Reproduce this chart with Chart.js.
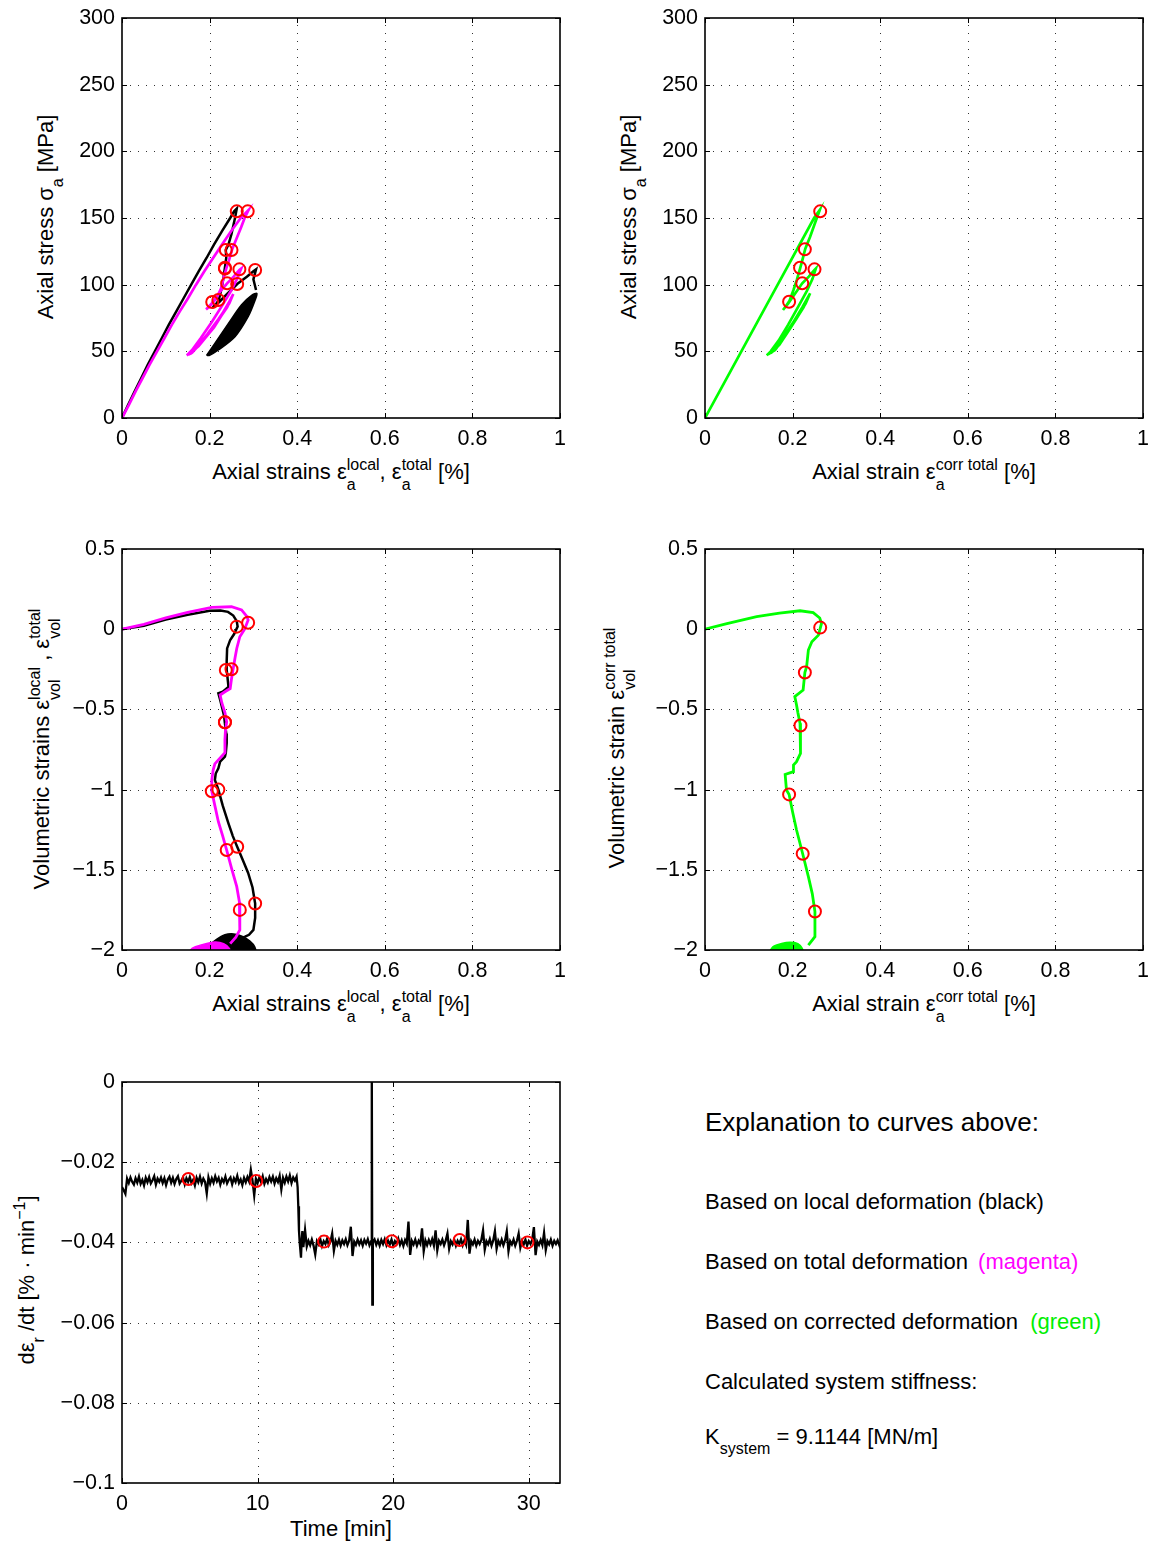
<!DOCTYPE html>
<html><head><meta charset="utf-8">
<script src="https://cdn.jsdelivr.net/npm/chart.js@4.4.1/dist/chart.umd.min.js"></script>
<style>
html,body{margin:0;padding:0;background:#fff;width:1154px;height:1543px;overflow:hidden;}
body{position:relative;font-family:"Liberation Sans",Arial,Helvetica,sans-serif;color:#000;}
canvas{position:absolute;}
.t{position:absolute;white-space:nowrap;font-size:22px;line-height:26px;}
.rot{transform:translate(-50%,-50%) rotate(-90deg);}
.hz{transform:translate(-50%,-50%);}
.ss{display:inline-flex;flex-direction:column;vertical-align:9px;font-size:16px;line-height:20px;align-items:flex-start;}
.sb{font-size:16px;vertical-align:-10px;line-height:0;}
.sp{font-size:16px;vertical-align:9px;line-height:0;}
.p{position:absolute;left:705px;white-space:nowrap;font-size:22px;line-height:26px;}
.h{position:absolute;left:705px;white-space:nowrap;font-size:26px;line-height:30px;}
</style></head><body>

<div class="t hz" style="left:341px;top:475px">Axial strains ε<span class="ss"><span>local</span><span>a</span></span>, ε<span class="ss"><span>total</span><span>a</span></span> [%]</div>
<div class="t rot" style="left:46px;top:217px">Axial stress σ<span class="sb">a</span> [MPa]</div>
<div class="t hz" style="left:924px;top:475px">Axial strain ε<span class="ss"><span>corr total</span><span>a</span></span> [%]</div>
<div class="t rot" style="left:629px;top:217px">Axial stress σ<span class="sb">a</span> [MPa]</div>

<div class="t hz" style="left:341px;top:1007px">Axial strains ε<span class="ss"><span>local</span><span>a</span></span>, ε<span class="ss"><span>total</span><span>a</span></span> [%]</div>
<div class="t rot" style="left:45px;top:749px">Volumetric strains ε<span class="ss"><span>local</span><span>vol</span></span> , ε<span class="ss"><span>total</span><span>vol</span></span></div>
<div class="t hz" style="left:924px;top:1007px">Axial strain ε<span class="ss"><span>corr total</span><span>a</span></span> [%]</div>
<div class="t rot" style="left:620px;top:748px">Volumetric strain ε<span class="ss"><span>corr total</span><span>vol</span></span></div>

<div class="t hz" style="left:341px;top:1529px">Time [min]</div>
<div class="t rot" style="left:27px;top:1280px">dε<span class="sb">r</span> /dt [% · min<span class="sp">−1</span>]</div>

<div class="h" style="top:1107px">Explanation to curves above:</div>
<div class="p" style="top:1189px">Based on local deformation (black)</div>
<div class="p" style="top:1249px">Based on total deformation <span style="color:#ff00ff;margin-left:4px">(magenta)</span></div>
<div class="p" style="top:1309px">Based on corrected deformation <span style="color:#00ee00;margin-left:6px">(green)</span></div>
<div class="p" style="top:1369px">Calculated system stiffness:</div>
<div class="p" style="top:1424px">K<span class="sb">system</span> = 9.1144 [MN/m]</div>

<script>
// ---------- DATA ----------
// Top-left: axial stress vs local / total axial strain
const tlLocalStrain = [0,0.014,0.029,0.044,0.059,0.075,0.091,0.107,0.124,0.141,0.158,0.175,0.193,0.210,0.228,0.247,0.256,0.262, 0.258,0.250,0.243,0.237,0.238,0.235,0.232,0.228,0.222,0.218,0.212,0.207, 0.222,0.240,0.263,0.285,0.300,0.306, 0.300,0.306];
const tlLocalStress = [0,10,20,30,40,50,60,70,80,90,100,110,120,130,140,150,155,157, 150,138,130,126,120,113,106,98,90,87,84,83, 87,93,100.5,106,110,111.5, 104,96];
const tlLocalCycStrain = [0.193,0.212,0.243,0.273,0.296,0.308,0.304,0.288,0.258,0.220,0.200,0.193];
const tlLocalCycStress = [47,56,71,85,92,93.5,88.5,76,61,51,47,47];
const tlTotalStrain = [0,0.016,0.031,0.047,0.063,0.080,0.097,0.114,0.132,0.151,0.169,0.188,0.208,0.228,0.249,0.271,0.283,0.289, 0.280,0.272,0.262,0.252,0.244,0.238,0.232,0.226,0.216,0.206,0.198,0.192, 0.205,0.222,0.240,0.255,0.268,0.272, 0.262,0.250,0.230,0.205,0.180,0.160,0.148, 0.160,0.185,0.210,0.235,0.254, 0.245,0.220,0.195,0.170,0.152, 0.175,0.200,0.225,0.250, 0.240,0.215,0.185,0.160,0.155];
const tlTotalStress = [0,10,20,30,40,50,60,70,80,90,100,110,120,130,140,150,154,156, 150,143,135,127,118,112,105,97,90,86,83,81.5, 86,94,101,106,111,112, 104,96,85,72,60,51,47, 50,58,68,81,93, 86,74,63,53,47.5, 54,64,76,90, 83,71,58,49,48];
const tlLocalMarkStrain = [0.262,0.237,0.235,0.220,0.263,0.304];
const tlLocalMarkStress = [155,126,112.7,88.5,100.5,111];
const tlTotalMarkStrain = [0.287,0.250,0.235,0.206,0.240,0.268];
const tlTotalMarkStress = [155,126,112,87,101,111.5];

// Top-right: axial stress vs corrected total axial strain
const trCorrStrain = [0,0.083,0.166,0.249,0.262, 0.252,0.240,0.229,0.222,0.217,0.210,0.202,0.193,0.185,0.178, 0.190,0.205,0.222,0.237,0.250,0.253, 0.245,0.232,0.212,0.190,0.168,0.150,0.141, 0.155,0.178,0.200,0.222,0.240, 0.230,0.208,0.182,0.160,0.145, 0.165,0.190,0.215,0.235, 0.225,0.198,0.170,0.150];
const trCorrStress = [0,50,100,150,156, 147,136,127,118,112,104,96,88,84,81, 86,93,101,106,111,112, 104,95,83,70,58,50,47, 51,60,71,83,93.5, 86,74,61,51,48, 54,65,78,90, 83,69,55,48.5];
const trMarkStrain = [0.263,0.228,0.217,0.192,0.222,0.250];
const trMarkStress = [155,126.5,112.7,87.2,101,111.5];

// Middle-left: volumetric strain vs axial strain (local / total)
const mlLocalStrain = [0,0.05,0.10,0.15,0.20,0.225,0.242,0.254,0.262,0.264,0.256,0.247,0.240,0.239,0.239,0.242,0.243,0.230,0.220,0.224,0.228,0.233,0.235,0.238,0.239,0.237,0.235,0.224,0.220,0.214,0.212,0.220,0.230,0.243,0.253,0.263,0.276,0.288,0.298,0.304,0.304,0.300,0.290,0.281,0.270];
const mlLocalVol = [0,0.022,0.06,0.09,0.115,0.117,0.108,0.085,0.05,0.016,-0.03,-0.067,-0.12,-0.2,-0.254,-0.33,-0.36,-0.39,-0.40,-0.44,-0.483,-0.54,-0.587,-0.65,-0.711,-0.77,-0.795,-0.826,-0.867,-0.90,-0.94,-1.0,-1.1,-1.21,-1.29,-1.356,-1.44,-1.52,-1.61,-1.71,-1.80,-1.875,-1.905,-1.917,-1.93];
const mlLocalCycStrain = [0.188,0.200,0.215,0.235,0.255,0.275,0.292,0.303,0.310];
const mlLocalCycVol = [-2.05,-1.97,-1.935,-1.905,-1.90,-1.915,-1.945,-1.98,-2.05];
const mlTotalStrain = [0,0.05,0.10,0.15,0.205,0.250,0.273,0.285,0.288,0.280,0.269,0.262,0.258,0.254,0.250,0.247,0.235,0.224,0.228,0.235,0.239,0.236,0.235,0.235,0.220,0.212,0.208,0.205,0.205,0.212,0.220,0.230,0.239,0.250,0.262,0.268,0.269,0.269,0.260,0.247];
const mlTotalVol = [0,0.03,0.07,0.105,0.136,0.140,0.12,0.08,0.057,0.0,-0.047,-0.12,-0.18,-0.244,-0.31,-0.37,-0.39,-0.41,-0.46,-0.52,-0.577,-0.64,-0.69,-0.77,-0.815,-0.84,-0.88,-0.94,-1.01,-1.1,-1.2,-1.29,-1.377,-1.49,-1.605,-1.70,-1.75,-1.875,-1.92,-1.96];
const mlTotalCycStrain = [0.145,0.160,0.185,0.212,0.232,0.245,0.250];
const mlTotalCycVol = [-2.05,-1.99,-1.965,-1.95,-1.96,-1.99,-2.05];
const mlLocalMarkStrain = [0.262,0.237,0.235,0.220,0.263,0.304];
const mlLocalMarkVol = [0.016,-0.254,-0.58,-1.0,-1.356,-1.71];
const mlTotalMarkStrain = [0.288,0.250,0.235,0.205,0.239,0.269];
const mlTotalMarkVol = [0.04,-0.25,-0.58,-1.01,-1.377,-1.75];

// Middle-right: corrected volumetric strain vs corrected axial strain
const mrCorrStrain = [0,0.05,0.118,0.17,0.217,0.247,0.262,0.266,0.259,0.244,0.236,0.232,0.228,0.224,0.205,0.209,0.212,0.217,0.218,0.218,0.209,0.202,0.202,0.183,0.186,0.192,0.200,0.209,0.223,0.236,0.245,0.251,0.251,0.236];
const mrCorrVol = [0,0.035,0.078,0.10,0.115,0.103,0.07,0.036,-0.037,-0.078,-0.13,-0.234,-0.27,-0.379,-0.42,-0.473,-0.52,-0.587,-0.68,-0.774,-0.826,-0.847,-0.888,-0.905,-1.003,-1.03,-1.14,-1.252,-1.40,-1.543,-1.65,-1.761,-1.917,-1.97];
const mrCorrCycStrain = [0.140,0.155,0.175,0.194,0.212,0.222,0.226];
const mrCorrCycVol = [-2.05,-1.98,-1.96,-1.952,-1.96,-1.99,-2.05];
const mrMarkStrain = [0.263,0.228,0.218,0.192,0.223,0.251];
const mrMarkVol = [0.01,-0.27,-0.60,-1.03,-1.40,-1.76];

// Bottom: radial strain rate vs time [min]
const rateTime = [
 0,0.125,0.25,0.375,0.5,0.625,0.75,0.875,
 1,1.125,1.25,1.375,1.5,1.625,1.75,1.875,
 2,2.125,2.25,2.375,2.5,2.625,2.75,2.875,
 3,3.125,3.25,3.375,3.5,3.625,3.75,3.875,
 4,4.125,4.25,4.375,4.5,4.625,4.75,4.875,
 5,5.125,5.25,5.375,5.5,5.625,5.75,5.875,
 6,6.125,6.25,6.375,6.5,6.625,6.75,6.875,
 7,7.125,7.25,7.375,7.5,7.625,7.75,7.875,
 8,8.125,8.25,8.375,8.5,8.625,8.75,8.875,
 9,9.125,9.25,9.375,9.5,9.625,9.75,9.875,
 10,10.125,10.25,10.375,10.5,10.625,10.75,10.875,
 11,11.125,11.25,11.375,11.5,11.625,11.75,11.875,
 12,12.125,12.25,12.375,12.5,12.625,12.75,
 12.875,12.95,13.0,13.05,13.1,13.15,13.2,13.25,13.3,13.375,
 13.5,13.625,13.75,13.875,14,14.125,14.25,14.375,
 14.5,14.625,14.75,14.875,15,15.125,15.25,15.375,
 15.5,15.625,15.75,15.875,16,16.125,16.25,16.375,
 16.5,16.625,16.75,16.875,17,17.125,17.25,17.375,
 17.5,17.625,17.75,17.875,18,18.125,18.25,18.375,
 18.42,18.46,
 18.5,18.625,18.75,18.875,19,19.125,19.25,19.375,
 19.5,19.625,19.75,19.875,20,20.125,20.25,20.375,
 20.5,20.625,20.75,20.875,21,21.125,21.25,21.375,
 21.5,21.625,21.75,21.875,22,22.125,22.25,22.375,
 22.5,22.625,22.75,22.875,23,23.125,23.25,23.375,
 23.5,23.625,23.75,23.875,24,24.125,24.25,24.375,
 24.5,24.625,24.75,24.875,25,25.125,25.25,25.375,
 25.5,25.625,25.75,25.875,26,26.125,26.25,26.375,
 26.5,26.625,26.75,26.875,27,27.125,27.25,27.375,
 27.5,27.625,27.75,27.875,28,28.125,28.25,28.375,
 28.5,28.625,28.75,28.875,29,29.125,29.25,29.375,
 29.5,29.625,29.75,29.875,30,30.125,30.25,30.375,
 30.5,30.625,30.75,30.875,31,31.125,31.25,31.375,
 31.5,31.625,31.75,31.875,32,32.125,32.25,
 32.3];
const rateValue = [
 -0.0262,-0.0270,-0.0279,-0.0241,-0.0252,-0.0238,-0.0249,-0.0256,
 -0.0240,-0.0251,-0.0236,-0.0254,-0.0244,-0.0258,-0.0239,-0.0250,
 -0.0237,-0.0253,-0.0245,-0.0235,-0.0256,-0.0241,-0.0249,-0.0238,
 -0.0252,-0.0240,-0.0257,-0.0243,-0.0236,-0.0251,-0.0239,-0.0254,
 -0.0242,-0.0235,-0.0253,-0.0246,-0.0238,-0.0255,-0.0240,-0.0249,
 -0.0237,-0.0252,-0.0244,-0.0258,-0.0239,-0.0250,-0.0236,-0.0253,
 -0.0241,-0.0249,-0.0278,-0.0238,-0.0254,-0.0240,-0.0251,-0.0235,
 -0.0248,-0.0239,-0.0256,-0.0242,-0.0250,-0.0236,-0.0253,-0.0244,
 -0.0238,-0.0255,-0.0240,-0.0249,-0.0234,-0.0252,-0.0243,-0.0257,
 -0.0239,-0.0250,-0.0237,-0.0248,-0.0219,-0.0246,-0.0283,-0.0241,
 -0.0252,-0.0238,-0.0249,-0.0235,-0.0254,-0.0242,-0.0251,-0.0237,
 -0.0248,-0.0236,-0.0253,-0.0240,-0.0249,-0.0234,-0.0268,-0.0239,
 -0.0251,-0.0236,-0.0248,-0.0233,-0.0252,-0.0238,-0.0246,
 -0.0236,-0.0262,-0.0310,-0.0370,-0.0398,-0.0418,-0.0438,-0.0395,-0.0372,-0.0412,
 -0.0369,-0.0410,-0.0396,-0.0407,-0.0393,-0.0408,-0.0430,-0.0397,
 -0.0405,-0.0392,-0.0409,-0.0397,-0.0404,-0.0391,-0.0407,-0.0398,
 -0.0378,-0.0421,-0.0396,-0.0406,-0.0393,-0.0408,-0.0395,-0.0404,
 -0.0392,-0.0407,-0.0396,-0.0361,-0.0434,-0.0398,-0.0406,-0.0393,
 -0.0405,-0.0395,-0.0408,-0.0394,-0.0403,-0.0392,-0.0407,-0.0397,
 0.005,-0.0555,
 -0.0400,-0.0393,-0.0406,-0.0395,-0.0408,-0.0394,-0.0404,-0.0392,
 -0.0407,-0.0396,-0.0405,-0.0393,-0.0408,-0.0397,-0.0404,-0.0391,
 -0.0406,-0.0395,-0.0409,-0.0394,-0.0403,-0.0348,-0.0431,-0.0396,
 -0.0405,-0.0393,-0.0408,-0.0396,-0.0404,-0.0365,-0.0422,-0.0395,
 -0.0407,-0.0394,-0.0405,-0.0392,-0.0408,-0.0370,-0.0420,-0.0396,
 -0.0404,-0.0393,-0.0407,-0.0395,-0.0378,-0.0416,-0.0397,-0.0405,
 -0.0393,-0.0408,-0.0396,-0.0404,-0.0392,-0.0407,-0.0395,-0.0406,
 -0.0344,-0.0428,-0.0397,-0.0405,-0.0393,-0.0408,-0.0396,-0.0404,
 -0.0394,-0.0370,-0.0418,-0.0397,-0.0405,-0.0392,-0.0408,-0.0395,
 -0.0372,-0.0416,-0.0396,-0.0406,-0.0393,-0.0407,-0.0395,-0.0372,
 -0.0422,-0.0397,-0.0405,-0.0393,-0.0408,-0.0396,-0.0378,-0.0413,
 -0.0396,-0.0405,-0.0393,-0.0408,-0.0397,-0.0404,-0.0394,-0.0362,
 -0.0432,-0.0398,-0.0406,-0.0394,-0.0407,-0.0376,-0.0419,-0.0397,
 -0.0405,-0.0393,-0.0408,-0.0396,-0.0404,-0.0395,-0.0407,
 -0.0400];
const rateMarkTime = [4.9,9.9,14.9,19.9,24.9,29.9];
const rateMarkValue = [-0.0242,-0.0247,-0.0398,-0.0397,-0.0394,-0.0400];

// Axis ranges / ticks
const strainAxis = {min:0, max:1, step:0.2};
const stressAxis = {min:0, max:300, step:50};
const volAxis = {min:-2, max:0.5, step:0.5};
const timeAxis = {min:0, max:32.3, step:10};
const rateAxis = {min:-0.1, max:0, step:0.02};

// ---------- DRAWING ----------
const FONT = '"Liberation Sans", Arial, Helvetica, sans-serif';
const M = {l:100, t:25, r:22, b:45};
const BLACK = '#000000', MAG = '#ff00ff', GRN = '#00ff00', RED = '#ff0000';
const pts = (xs, ys) => xs.map((x, i) => ({x: x, y: ys[i]}));
const fmt = v => { const r = Math.round(v * 1e6) / 1e6; return (r === 0 ? '0' : String(r)).replace('-', '\u2212'); };

const matlabAxes = {
  id: 'matlabAxes',
  beforeDatasetsDraw(chart) {
    const {ctx, chartArea: a, scales: {x, y}} = chart;
    ctx.save();
    ctx.strokeStyle = 'rgba(0,0,0,0.8)';
    ctx.lineWidth = 1;
    ctx.setLineDash([1, 7]);
    x.ticks.forEach(t => {
      const px = Math.round(x.getPixelForValue(t.value)) + 0.5;
      if (px > a.left + 2 && px < a.right - 2) { ctx.beginPath(); ctx.moveTo(px, a.bottom); ctx.lineTo(px, a.top); ctx.stroke(); }
    });
    y.ticks.forEach(t => {
      const py = Math.round(y.getPixelForValue(t.value)) + 0.5;
      if (py > a.top + 2 && py < a.bottom - 2) { ctx.beginPath(); ctx.moveTo(a.left, py); ctx.lineTo(a.right, py); ctx.stroke(); }
    });
    ctx.restore();
  },
  afterDatasetsDraw(chart) {
    const {ctx, chartArea: a, scales: {x, y}} = chart;
    ctx.save();
    ctx.strokeStyle = '#000';
    ctx.lineWidth = 1;
    const L = 5;
    x.ticks.forEach(t => {
      const px = Math.round(x.getPixelForValue(t.value)) + 0.5;
      ctx.beginPath(); ctx.moveTo(px, a.bottom); ctx.lineTo(px, a.bottom - L);
      ctx.moveTo(px, a.top); ctx.lineTo(px, a.top + L); ctx.stroke();
    });
    y.ticks.forEach(t => {
      const py = Math.round(y.getPixelForValue(t.value)) + 0.5;
      ctx.beginPath(); ctx.moveTo(a.left, py); ctx.lineTo(a.left + L, py);
      ctx.moveTo(a.right, py); ctx.lineTo(a.right - L, py); ctx.stroke();
    });
    ctx.lineWidth = 1.6;
    ctx.strokeRect(a.left, a.top, a.right - a.left, a.bottom - a.top);
    ctx.restore();
  }
};

function scale(pos, ax) {
  const isX = pos === 'bottom';
  return {
    type: 'linear', position: pos, min: ax.min, max: ax.max,
    ticks: {stepSize: ax.step, includeBounds: false, autoSkip: false, maxRotation: 0,
            padding: isX ? 8 : 7, color: '#000', font: {family: FONT, size: 21.5}, callback: v => fmt(v)},
    grid: {display: false, drawTicks: false},
    border: {display: false},
    afterFit: s => { if (isX) s.height = M.b; else s.width = M.l; }
  };
}
function line(xs, ys, color, w, order) {
  return {data: pts(xs, ys), showLine: true, borderColor: color, backgroundColor: color, borderWidth: w,
          pointRadius: 0, pointHoverRadius: 0, tension: 0, clip: 0, order: order};
}
function blob(xs, ys, color, order) {
  return {data: pts(xs, ys), showLine: true, fill: 'shape', borderColor: color, backgroundColor: color, borderWidth: 1.5,
          pointRadius: 0, pointHoverRadius: 0, tension: 0.3, clip: 0, order: order};
}
function marks(xs, ys, order) {
  return {data: pts(xs, ys), showLine: false, pointRadius: 6, pointHoverRadius: 6, pointBorderWidth: 2,
          pointBorderColor: RED, pointBackgroundColor: 'rgba(0,0,0,0)', borderColor: RED, order: order};
}
function makeChart(box, xAx, yAx, datasets) {
  const c = document.createElement('canvas');
  const W = box.w + M.l + M.r, H = box.h + M.t + M.b;
  c.width = W; c.height = H;
  c.style.left = (box.left - M.l) + 'px'; c.style.top = (box.top - M.t) + 'px';
  c.style.width = W + 'px'; c.style.height = H + 'px';
  document.body.appendChild(c);
  new Chart(c.getContext('2d'), {
    type: 'scatter',
    data: {datasets: datasets},
    options: {
      responsive: false, animation: false, devicePixelRatio: 1, events: [],
      layout: {padding: {left: 0, top: M.t, right: M.r, bottom: 0}},
      plugins: {legend: {display: false}, tooltip: {enabled: false}},
      scales: {x: scale('bottom', xAx), y: scale('left', yAx)}
    },
    plugins: [matlabAxes]
  });
}

makeChart({left:122, top:18, w:438, h:400}, strainAxis, stressAxis, [
  marks(tlTotalMarkStrain, tlTotalMarkStress, 0),
  marks(tlLocalMarkStrain, tlLocalMarkStress, 0),
  line(tlTotalStrain, tlTotalStress, MAG, 2.7, 1),
  line(tlLocalStrain, tlLocalStress, BLACK, 2.5, 2),
  blob(tlLocalCycStrain, tlLocalCycStress, BLACK, 3)
]);
makeChart({left:705, top:18, w:438, h:400}, strainAxis, stressAxis, [
  marks(trMarkStrain, trMarkStress, 0),
  line(trCorrStrain, trCorrStress, GRN, 2.7, 1)
]);
makeChart({left:122, top:549, w:438, h:401}, strainAxis, volAxis, [
  marks(mlTotalMarkStrain, mlTotalMarkVol, 0),
  marks(mlLocalMarkStrain, mlLocalMarkVol, 0),
  line(mlTotalStrain, mlTotalVol, MAG, 2.8, 1),
  blob(mlTotalCycStrain, mlTotalCycVol, MAG, 1),
  line(mlLocalStrain, mlLocalVol, BLACK, 2.5, 2),
  blob(mlLocalCycStrain, mlLocalCycVol, BLACK, 3)
]);
makeChart({left:705, top:549, w:438, h:401}, strainAxis, volAxis, [
  marks(mrMarkStrain, mrMarkVol, 0),
  line(mrCorrStrain, mrCorrVol, GRN, 2.8, 1),
  blob(mrCorrCycStrain, mrCorrCycVol, GRN, 2)
]);
makeChart({left:122, top:1082, w:438, h:401}, timeAxis, rateAxis, [
  marks(rateMarkTime, rateMarkValue, 0),
  line(rateTime, rateValue, BLACK, 2.3, 1)
]);
</script>
</body></html>
